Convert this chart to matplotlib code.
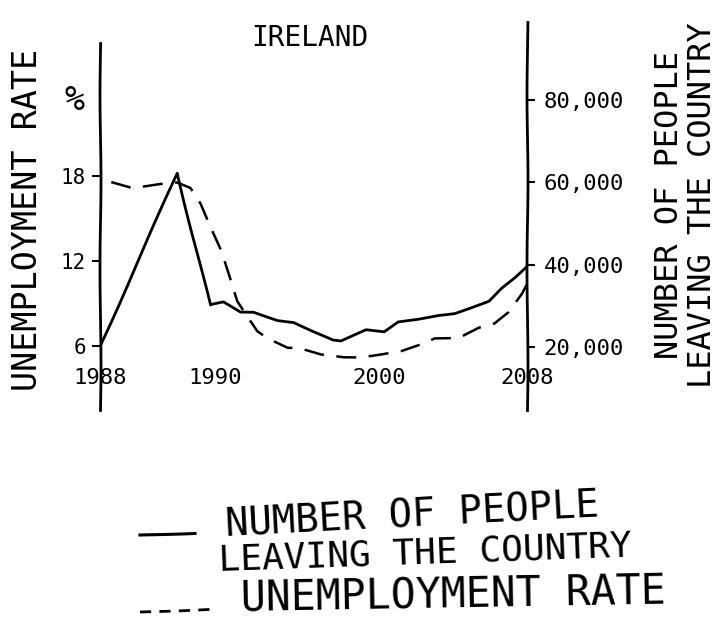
import matplotlib
matplotlib.use("Agg")
import matplotlib.pyplot as plt
import numpy as np
from matplotlib.lines import Line2D

# emigration from Ireland (people per year)
emig_years = [1988, 1989.34, 1989.91, 1990.49, 1991.53, 1992.33, 1993.80, 1994.79,
              1995.83, 1997.18, 1997.67, 1999.20, 2000.27, 2001.03, 2002.12,
              2003.21, 2004.08, 2005.01, 2005.93, 2006.64, 2007.35, 2008]
emigrants = [20000, 62200, 30200, 30900, 28500, 28500, 26550, 26070,
             24100, 21700, 21450, 24100, 23600, 26070, 26800,
             27770, 28250, 29700, 31160, 34300, 36750, 39400]

# unemployment rate (%)
unemp_years = [1988.2, 1988.57, 1989.04, 1989.34, 1989.57, 1989.74, 1989.91,
               1990.31, 1990.92, 1991.35, 1992.58, 1993.19, 1994.42, 1995.03,
               1996.44, 1997.85, 1998.90, 1999.94, 2001.20, 2002.29, 2003.0,
               2004.30, 2005.39, 2006.26, 2007.02, 2007.73, 2008]
unemp_rate = [17.6, 17.2, 17.5, 17.6, 17.2, 16.1, 14.4,
              12.8, 10.7, 9.2, 7.1, 6.6, 5.9, 5.9,
              5.4, 5.2, 5.2, 5.4, 5.7, 6.2, 6.6,
              6.6, 7.3, 7.6, 8.4, 9.7, 10.4]

year_ticks = [1988, 1990, 2000, 2008]
rate_ticks = [6, 12, 18]
people_ticks = [20000, 40000, 60000, 80000]
people_labels = ["20,000", "40,000", "60,000", "80,000"]

# hand-drawn year axis is not evenly spaced
anchor_years = [1988, 1990, 2000, 2008]
anchor_pos = [0, 115, 278, 425]
def fwd(x):
    return np.interp(x, anchor_years, anchor_pos, left=-1e3, right=1e3)
def inv(x):
    return np.interp(x, anchor_pos, anchor_years)

plt.xkcd(scale=0.5, length=200, randomness=2)
plt.rcParams['font.family'] = 'DejaVu Sans Mono'
plt.rcParams['path.effects'] = []

fig = plt.figure(figsize=(7.28, 6.31), dpi=100)
ax = fig.add_axes([0.137, 0.350, 0.587, 0.615])
ax2 = ax.twinx()

ax.set_xscale('function', functions=(fwd, inv))
ax.set_xlim(1988, 2008)
ax.set_ylim(1.5, 28.9)
ax2.set_ylim(4700, 98900)

ax.plot(unemp_years, unemp_rate, color='black', lw=1.8, ls=(0, (8, 5)))
ax2.plot(emig_years, emigrants, color='black', lw=2.0)

for a in (ax, ax2):
    a.spines['top'].set_visible(False)
    a.spines['bottom'].set_visible(False)
ax.spines['right'].set_visible(False)
ax2.spines['left'].set_visible(False)
ax.spines['left'].set_bounds(1.5, 27.4)
ax.spines['left'].set_linewidth(2)
ax2.spines['right'].set_linewidth(2)

ax.set_xticks(year_ticks)
ax.set_xticklabels([str(y) for y in year_ticks], fontsize=16)
ax.tick_params(axis='x', length=0, pad=-30)
ax.set_yticks(rate_ticks)
ax.set_yticklabels([str(r) for r in rate_ticks], fontsize=15)
ax.tick_params(axis='y', length=6, width=1.5, pad=4)
ax2.set_yticks(people_ticks)
ax2.set_yticklabels(people_labels, fontsize=16)
ax2.tick_params(axis='y', length=6, width=1.5, pad=6)

fig.text(310 / 728, 1 - 38 / 631, "IRELAND", fontsize=20, ha='center', va='center')
fig.text(75 / 728, 1 - 100 / 631, "%", fontsize=24, ha='center', va='center')
fig.text(28 / 728, 1 - 220 / 631, "UNEMPLOYMENT RATE", fontsize=24,
         rotation=90, ha='center', va='center')
fig.text(686 / 728, 1 - 205 / 631, "NUMBER OF PEOPLE\nLEAVING THE COUNTRY",
         fontsize=23, rotation=90, ha='center', va='center', linespacing=1.05)

# legend drawn by hand below the chart
fig.add_artist(Line2D([140 / 728, 195 / 728], [1 - 535 / 631, 1 - 533 / 631],
                      color='black', lw=2.2, transform=fig.transFigure))
fig.add_artist(Line2D([140 / 728, 212 / 728], [1 - 612 / 631, 1 - 609 / 631],
                      color='black', lw=2.0, ls=(0, (4, 3)), transform=fig.transFigure))
fig.text(224 / 728, 1 - 516 / 631, "NUMBER OF PEOPLE", fontsize=28,
         ha='left', va='center', rotation=3)
fig.text(218 / 728, 1 - 553 / 631, "LEAVING THE COUNTRY", fontsize=26,
         ha='left', va='center', rotation=2)
fig.text(240 / 728, 1 - 596 / 631, "UNEMPLOYMENT RATE", fontsize=30,
         ha='left', va='center', rotation=1)

fig.savefig("out.png", dpi=100, facecolor='white')
